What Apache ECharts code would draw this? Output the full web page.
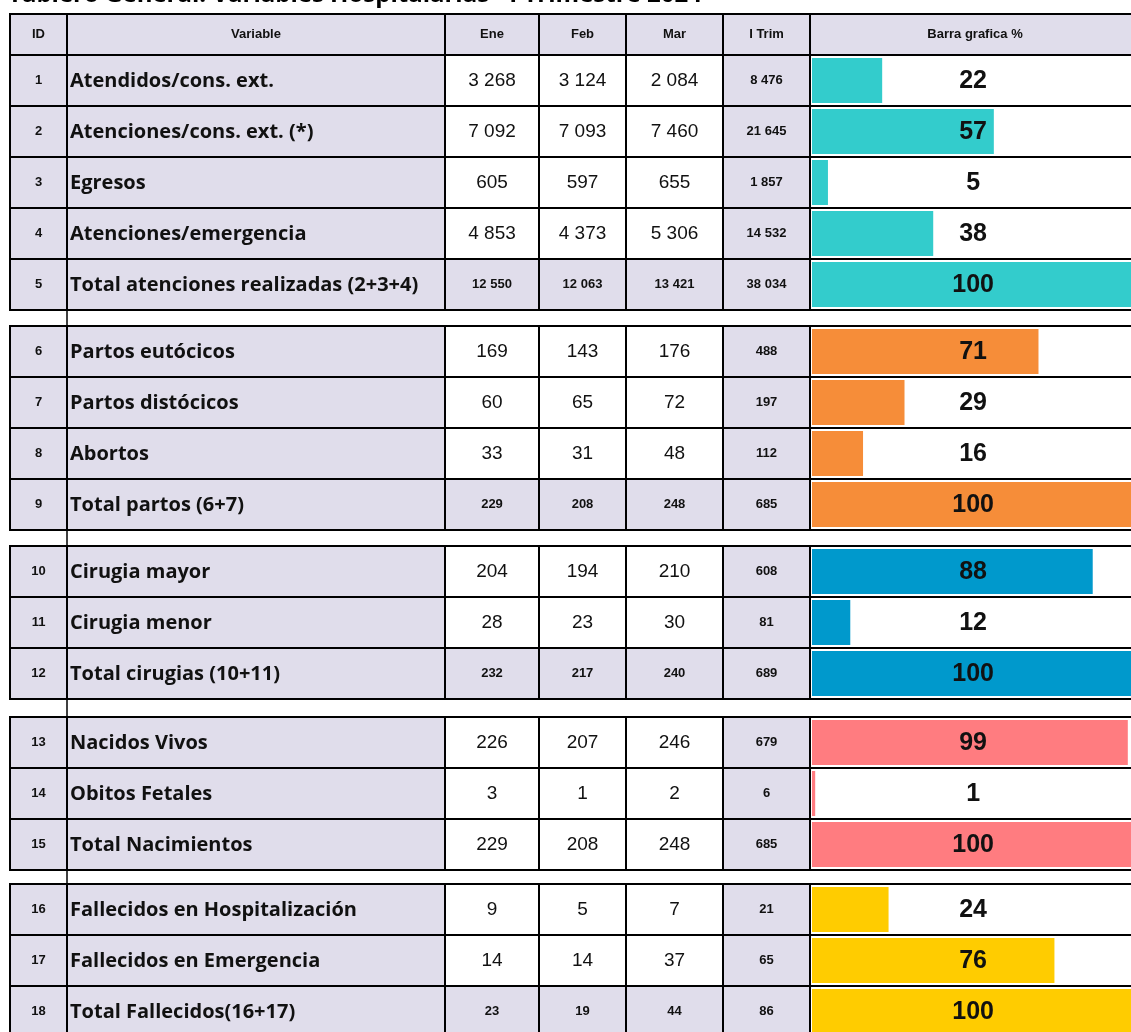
<!DOCTYPE html>
<html>
<head>
<meta charset="utf-8">
<script src="https://cdn.jsdelivr.net/npm/echarts@6/dist/echarts.min.js"></script>
<style>
  html, body { margin: 0; padding: 0; background: #fff; }
  #main { width: 1131px; height: 1032px; }
</style>
</head>
<body>
<div id="main"></div>
<script>
// datos del tablero
const titleText = 'Tablero General: Variables Hospitalarias - I Trimestre 2024';
const headers = ['ID', 'Variable', 'Ene', 'Feb', 'Mar', 'I Trim', 'Barra grafica %'];
const ids = [1, 2, 3, 4, 5, 6, 7, 8, 9, 10, 11, 12, 13, 14, 15, 16, 17, 18];
const variables = [
  'Atendidos/cons. ext.', 'Atenciones/cons. ext. (*)', 'Egresos', 'Atenciones/emergencia',
  'Total atenciones realizadas (2+3+4)',
  'Partos eutócicos', 'Partos distócicos', 'Abortos', 'Total partos (6+7)',
  'Cirugia mayor', 'Cirugia menor', 'Total cirugias (10+11)',
  'Nacidos Vivos', 'Obitos Fetales', 'Total Nacimientos',
  'Fallecidos en Hospitalización', 'Fallecidos en Emergencia', 'Total Fallecidos(16+17)'
];
const ene = [3268, 7092, 605, 4853, 12550, 169, 60, 33, 229, 204, 28, 232, 226, 3, 229, 9, 14, 23];
const feb = [3124, 7093, 597, 4373, 12063, 143, 65, 31, 208, 194, 23, 217, 207, 1, 208, 5, 14, 19];
const mar = [2084, 7460, 655, 5306, 13421, 176, 72, 48, 248, 210, 30, 240, 246, 2, 248, 7, 37, 44];
const trim = [8476, 21645, 1857, 14532, 38034, 488, 197, 112, 685, 608, 81, 689, 679, 6, 685, 21, 65, 86];
const pct = [22, 57, 5, 38, 100, 71, 29, 16, 100, 88, 12, 100, 99, 1, 100, 24, 76, 100];
const groups = [[1, 2, 3, 4, 5], [6, 7, 8, 9], [10, 11, 12], [13, 14, 15], [16, 17, 18]];
const totalRows = [5, 9, 12, 18];

// estilo / layout
const groupColors = ['#33CCCC', '#F68D39', '#0099CC', '#FF7C80', '#FFCC00'];
const LAV = '#E0DDEB';
const COL_X = [10, 67, 445, 539, 626, 723, 810, 1140];
const TABLE_TOP = 14, HEADER_H = 41, ROW_H = 51;
const GAPS = [16, 16, 18, 14];
const NARROW = '"Liberation Sans Narrow", "Liberation Sans", Arial, sans-serif';
const LABEL_FONT = '"Open Sans", "Noto Sans", sans-serif';

const rowTop = [];
const rowGroup = [];
let yy = TABLE_TOP + HEADER_H;
groups.forEach((g, gi) => {
  g.forEach(id => {
    rowTop[id - 1] = yy;
    rowGroup[id - 1] = gi;
    yy += ROW_H;
  });
  yy += GAPS[gi] || 0;
});

function fmt(n) {
  return String(n).replace(/\B(?=(\d{3})+(?!\d))/g, ' ');
}

function cell(api, c, top, h, fill) {
  const a = api.coord([COL_X[c], top]);
  const b = api.coord([COL_X[c + 1], top + h]);
  return {
    type: 'rect',
    shape: { x: a[0], y: a[1], width: b[0] - a[0], height: b[1] - a[1] },
    style: { fill: fill, stroke: '#000', lineWidth: 2 }
  };
}

function txt(api, x, y, text, font, align) {
  const p = api.coord([x, y]);
  return {
    type: 'text',
    style: { x: p[0], y: p[1], text: text, font: font, fill: '#111', align: align || 'center', verticalAlign: 'middle' }
  };
}

function renderHeader(params, api) {
  const children = [];
  const mid = TABLE_TOP + HEADER_H / 2;
  for (let c = 0; c < 7; c++) {
    children.push(cell(api, c, TABLE_TOP, HEADER_H, LAV));
    children.push(txt(api, (COL_X[c] + COL_X[c + 1]) / 2, mid, headers[c], 'bold 13px ' + NARROW));
  }
  // linea vertical entre ID y Variable (sigue por los huecos)
  const a = api.coord([COL_X[1], TABLE_TOP]);
  const b = api.coord([COL_X[1], yy]);
  children.push({ type: 'line', shape: { x1: a[0], y1: a[1], x2: b[0], y2: b[1] }, style: { stroke: '#000', lineWidth: 1.5 } });
  return { type: 'group', children: children };
}

function renderRow(params, api) {
  const i = params.dataIndex;
  const top = rowTop[i];
  const mid = top + ROW_H / 2;
  const isTotal = totalRows.indexOf(ids[i]) >= 0;
  const children = [];
  const fills = [LAV, LAV, isTotal ? LAV : '#fff', isTotal ? LAV : '#fff', isTotal ? LAV : '#fff', LAV, '#fff'];
  for (let c = 0; c < 7; c++) children.push(cell(api, c, top, ROW_H, fills[c]));
  children.push(txt(api, (COL_X[0] + COL_X[1]) / 2, mid, String(ids[i]), 'bold 13px ' + NARROW));
  children.push(txt(api, COL_X[1] + 3, mid + 1, variables[i], 'bold 20px ' + LABEL_FONT, 'left'));
  const monthFont = isTotal ? 'bold 13px ' + NARROW : '19px ' + NARROW;
  [ene, feb, mar].forEach((arr, k) => {
    children.push(txt(api, (COL_X[2 + k] + COL_X[3 + k]) / 2, mid, fmt(arr[i]), monthFont));
  });
  children.push(txt(api, (COL_X[5] + COL_X[6]) / 2, mid, fmt(trim[i]), 'bold 13px ' + NARROW));
  return { type: 'group', children: children };
}

function renderBar(params, api) {
  const i = params.dataIndex;
  const top = rowTop[i];
  const a = api.coord([0, top + 3]);
  const b = api.coord([api.value(0), top + ROW_H - 3]);
  const m = api.coord([50.5, top + ROW_H / 2]);
  return {
    type: 'group',
    children: [
      { type: 'rect', shape: { x: a[0], y: a[1], width: b[0] - a[0], height: b[1] - a[1] }, style: { fill: groupColors[rowGroup[i]] } },
      { type: 'text', style: { x: m[0], y: m[1] + 1, text: String(api.value(0)), font: 'bold 25px ' + NARROW, fill: '#111', align: 'center', verticalAlign: 'middle' } }
    ]
  };
}

const chart = echarts.init(document.getElementById('main'));
chart.setOption({
  animation: false,
  graphic: [{
    type: 'text', left: 8, top: -17,
    style: { text: titleText, font: 'bold 24px ' + LABEL_FONT, fill: '#000' }
  }],
  grid: [
    { left: 0, top: 0, width: 1131, height: 1032 },
    { left: 812, top: 0, width: 328, height: 1032 }
  ],
  xAxis: [
    { type: 'value', gridIndex: 0, min: 0, max: 1131, show: false },
    { type: 'value', gridIndex: 1, min: 0, max: 100, show: false }
  ],
  yAxis: [
    { type: 'value', gridIndex: 0, min: 0, max: 1032, inverse: true, show: false },
    { type: 'value', gridIndex: 1, min: 0, max: 1032, inverse: true, show: false }
  ],
  series: [
    { type: 'custom', xAxisIndex: 0, yAxisIndex: 0, renderItem: renderHeader, data: [[0, 0]], silent: true },
    { type: 'custom', xAxisIndex: 0, yAxisIndex: 0, renderItem: renderRow, data: ids.map((id, i) => [i, i]), silent: true },
    { type: 'custom', xAxisIndex: 1, yAxisIndex: 1, renderItem: renderBar, data: pct.map((p, i) => [p, i]), silent: true }
  ]
});
</script>
</body>
</html>
